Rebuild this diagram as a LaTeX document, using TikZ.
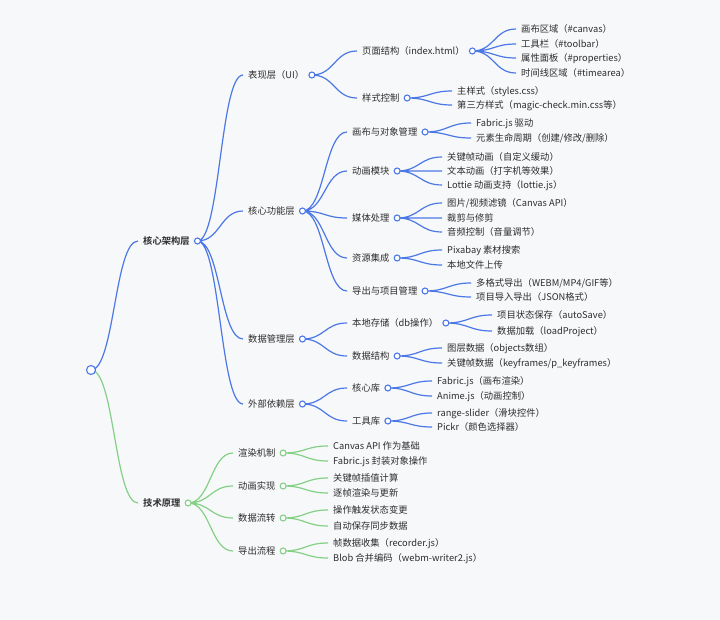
\documentclass[tikz,border=0pt]{standalone}
\usepackage{fontspec}
\setmainfont{Noto Sans CJK SC}[BoldFont={Noto Sans CJK SC Bold}]
\usetikzlibrary{positioning,calc,backgrounds}
\definecolor{bline}{RGB}{76,120,230}
\definecolor{gline}{RGB}{132,208,132}
\definecolor{paper}{RGB}{247,248,250}
\definecolor{ink}{RGB}{45,45,45}
\tikzset{
  item/.style={anchor=west,inner xsep=5pt,inner ysep=0pt,text height=8pt,text depth=1pt,
    font=\fontsize{9.3}{11}\selectfont,text=ink},
  head/.style={item,font=\fontsize{9.3}{11}\selectfont\bfseries},
  bdot/.style={circle,draw=bline,fill=white,line width=1.1pt,minimum size=6pt,inner sep=0pt},
  gdot/.style={bdot,draw=gline},
  branch/.style={to path={.. controls ($(\tikztostart)!.5!(\tikztostart-|\tikztotarget)$)
    and ($(\tikztotarget)!.5!(\tikztotarget-|\tikztostart)$) .. (\tikztotarget)}},
  bedge/.style={draw=bline,line width=1.2pt,branch},
  gedge/.style={bedge,draw=gline}
}
\begin{document}
\begin{tikzpicture}[x=1pt,y=-1pt]
  \useasboundingbox (0,0) rectangle (720,620);
  \node[bdot,minimum size=9pt] (root) at (91,370) {};

  % core architecture
  \node[head] (arch) at (138,241) {核心架构层};
  \node[bdot,right=-1pt of arch] (arch-o) {};
  \node[item] (ui) at (243,75) {表现层（UI）};
  \node[bdot,right=-1pt of ui] (ui-o) {};
  \node[item] (page) at (357,51) {页面结构（index.html）};
  \node[bdot,right=-1pt of page] (page-o) {};
  \node[item] (page1) at (516,29) {画布区域（\#canvas）};
  \node[item] (page2) at (516,44) {工具栏（\#toolbar）};
  \node[item] (page3) at (516,58) {属性面板（\#properties）};
  \node[item] (page4) at (516,73) {时间线区域（\#timearea）};
  \node[item] (style) at (357,98) {样式控制};
  \node[bdot,right=-1pt of style] (style-o) {};
  \node[item] (style1) at (452,91) {主样式（styles.css）};
  \node[item] (style2) at (452,105) {第三方样式（magic-check.min.css等）};

  \node[item] (core) at (243,211) {核心功能层};
  \node[bdot,right=-1pt of core] (core-o) {};
  \node[item] (obj) at (347,132) {画布与对象管理};
  \node[bdot,right=-1pt of obj] (obj-o) {};
  \node[item] (obj1) at (471,123) {Fabric.js 驱动};
  \node[item] (obj2) at (471,138) {元素生命周期（创建/修改/删除）};
  \node[item] (anim) at (347,171) {动画模块};
  \node[bdot,right=-1pt of anim] (anim-o) {};
  \node[item] (anim1) at (442,157) {关键帧动画（自定义缓动）};
  \node[item] (anim2) at (442,171) {文本动画（打字机等效果）};
  \node[item] (anim3) at (442,185) {Lottie 动画支持（lottie.js）};
  \node[item] (media) at (347,218) {媒体处理};
  \node[bdot,right=-1pt of media] (media-o) {};
  \node[item] (media1) at (442,203) {图片/视频滤镜（Canvas API）};
  \node[item] (media2) at (442,218) {裁剪与修剪};
  \node[item] (media3) at (442,232) {音频控制（音量调节）};
  \node[item] (res) at (347,258) {资源集成};
  \node[bdot,right=-1pt of res] (res-o) {};
  \node[item] (res1) at (442,250) {Pixabay 素材搜索};
  \node[item] (res2) at (442,265) {本地文件上传};
  \node[item] (out) at (347,291) {导出与项目管理};
  \node[bdot,right=-1pt of out] (out-o) {};
  \node[item] (out1) at (471,283) {多格式导出（WEBM/MP4/GIF等）};
  \node[item] (out2) at (471,297) {项目导入导出（JSON格式）};

  \node[item] (data) at (243,339) {数据管理层};
  \node[bdot,right=-1pt of data] (data-o) {};
  \node[item] (store) at (347,323) {本地存储（db操作）};
  \node[bdot,right=-1pt of store] (store-o) {};
  \node[item] (store1) at (492,315) {项目状态保存（autoSave）};
  \node[item] (store2) at (492,331) {数据加载（loadProject）};
  \node[item] (struct) at (347,356) {数据结构};
  \node[bdot,right=-1pt of struct] (struct-o) {};
  \node[item] (struct1) at (442,348) {图层数据（objects数组）};
  \node[item] (struct2) at (442,363) {关键帧数据（keyframes/p\_keyframes）};

  \node[item] (dep) at (243,404) {外部依赖层};
  \node[bdot,right=-1pt of dep] (dep-o) {};
  \node[item] (lib) at (347,388) {核心库};
  \node[bdot,right=-1pt of lib] (lib-o) {};
  \node[item] (lib1) at (432,381) {Fabric.js（画布渲染）};
  \node[item] (lib2) at (432,396) {Anime.js（动画控制）};
  \node[item] (tool) at (347,421) {工具库};
  \node[bdot,right=-1pt of tool] (tool-o) {};
  \node[item] (tool1) at (432,413) {range-slider（滑块控件）};
  \node[item] (tool2) at (432,427) {Pickr（颜色选择器）};

  % principles
  \node[head] (tech) at (138,503) {技术原理};
  \node[gdot,right=-1pt of tech] (tech-o) {};
  \node[item] (rend) at (233,453) {渲染机制};
  \node[gdot,right=-1pt of rend] (rend-o) {};
  \node[item] (rend1) at (328,446) {Canvas API 作为基础};
  \node[item] (rend2) at (328,461) {Fabric.js 封装对象操作};
  \node[item] (move) at (233,486) {动画实现};
  \node[gdot,right=-1pt of move] (move-o) {};
  \node[item] (move1) at (328,478) {关键帧插值计算};
  \node[item] (move2) at (328,493) {逐帧渲染与更新};
  \node[item] (flow) at (233,518) {数据流转};
  \node[gdot,right=-1pt of flow] (flow-o) {};
  \node[item] (flow1) at (328,510) {操作触发状态变更};
  \node[item] (flow2) at (328,526) {自动保存同步数据};
  \node[item] (dump) at (233,551) {导出流程};
  \node[gdot,right=-1pt of dump] (dump-o) {};
  \node[item] (dump1) at (328,543) {帧数据收集（recorder.js）};
  \node[item] (dump2) at (328,558) {Blob 合并编码（webm-writer2.js）};

  \begin{scope}[on background layer]
    \fill[paper] (0,0) rectangle (720,620);
    \draw[bedge] (root.center) to (arch.west)
      (arch-o.center) to (ui.west) (arch-o.center) to (core.west)
      (arch-o.center) to (data.west) (arch-o.center) to (dep.west)
      (ui-o.center) to (page.west) (ui-o.center) to (style.west)
      (page-o.center) to (page1.west) (page-o.center) to (page2.west)
      (page-o.center) to (page3.west) (page-o.center) to (page4.west)
      (style-o.center) to (style1.west) (style-o.center) to (style2.west)
      (core-o.center) to (obj.west) (core-o.center) to (anim.west)
      (core-o.center) to (media.west) (core-o.center) to (res.west)
      (core-o.center) to (out.west)
      (obj-o.center) to (obj1.west) (obj-o.center) to (obj2.west)
      (anim-o.center) to (anim1.west) (anim-o.center) to (anim2.west)
      (anim-o.center) to (anim3.west)
      (media-o.center) to (media1.west) (media-o.center) to (media2.west)
      (media-o.center) to (media3.west)
      (res-o.center) to (res1.west) (res-o.center) to (res2.west)
      (out-o.center) to (out1.west) (out-o.center) to (out2.west)
      (data-o.center) to (store.west) (data-o.center) to (struct.west)
      (store-o.center) to (store1.west) (store-o.center) to (store2.west)
      (struct-o.center) to (struct1.west) (struct-o.center) to (struct2.west)
      (dep-o.center) to (lib.west) (dep-o.center) to (tool.west)
      (lib-o.center) to (lib1.west) (lib-o.center) to (lib2.west)
      (tool-o.center) to (tool1.west) (tool-o.center) to (tool2.west);
    \draw[gedge] (root.center) to (tech.west)
      (tech-o.center) to (rend.west) (tech-o.center) to (move.west)
      (tech-o.center) to (flow.west) (tech-o.center) to (dump.west)
      (rend-o.center) to (rend1.west) (rend-o.center) to (rend2.west)
      (move-o.center) to (move1.west) (move-o.center) to (move2.west)
      (flow-o.center) to (flow1.west) (flow-o.center) to (flow2.west)
      (dump-o.center) to (dump1.west) (dump-o.center) to (dump2.west);
  \end{scope}
\end{tikzpicture}
\end{document}
